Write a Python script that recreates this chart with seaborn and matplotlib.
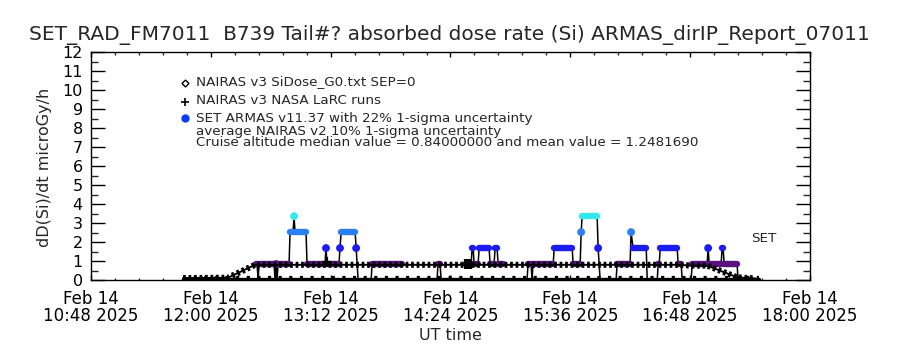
import numpy as np
import pandas as pd
import matplotlib
matplotlib.use("Agg")
import matplotlib.pyplot as plt
import matplotlib.dates as mdates
from matplotlib.ticker import FixedLocator, MultipleLocator
from matplotlib.lines import Line2D
import seaborn as sns

sns.set_theme(style="ticks")
plt.rcParams['font.family'] = ['DejaVu Sans']

T0 = pd.Timestamp("2025-02-14 10:48")

# ---------------- data (minutes after 10:48 UT) ----------------
# SET ARMAS v11.37 runs: start, end, dose-rate level (NaN = no data)
armas_start = [99.2, 100.4, 101.0, 110.6, 111.2, 111.8, 112.4, 119.6, 122.0, 122.6,
               129.8, 141.2, 141.8, 149.6, 150.3, 159.3, 160.5, 168.9, 187.5, 207.9,
               208.5, 210.4, 211.0, 225.4, 229.0, 230.2, 233.2, 239.8, 242.8, 244.6,
               248.2, 262.0, 262.6, 265.0, 265.6, 278.3, 289.7, 294.5, 295.1, 304.7,
               305.9, 316.1, 324.5, 325.7, 334.2, 340.8, 342.0, 352.8, 355.2, 361.2,
               370.8, 371.4, 379.2, 380.4, 388.8]
armas_end = [99.8, 100.4, 110.0, 110.6, 111.2, 111.8, 119.0, 121.4, 122.0, 129.2,
             140.6, 141.2, 149.0, 149.6, 158.7, 159.3, 168.3, 186.9, 207.3, 207.9,
             209.7, 210.4, 224.8, 228.4, 229.6, 232.6, 239.2, 242.2, 244.0, 247.6,
             261.4, 262.0, 264.4, 265.0, 277.7, 289.1, 293.9, 294.5, 304.1, 304.7,
             315.5, 323.9, 324.5, 333.6, 340.2, 341.4, 352.2, 354.6, 360.6, 370.2,
             370.8, 378.6, 379.8, 388.2, 388.8]
armas_level = [0.84, 0, 0.84, 0, 0.84, 0, 0.84, 2.52, 3.36, 2.52,
               0.84, 1.68, 0.84, 1.68, 2.52, 1.68, 0, 0.84, np.nan, 0,
               0.84, 0, np.nan, 0.84, 1.68, 0.84, 1.68, 0.84, 1.68, 0.84,
               np.nan, 0, 0.84, 0, 0.84, 1.68, 0.84, 2.52, 3.36, 1.68,
               0, 0.84, 2.52, 1.68, 0, 0.84, 1.68, 0.84, 0, 0.84,
               1.68, 0.84, 1.68, 0.84, 0]

# NAIRAS v3 SiDose_G0 (diamonds)
g0_min = [55.3, 82.3, 98.6, 352.8, 360.6, 370.2, 388.2, 399.1]
g0_val = [0.10, 0.12, 0.80, 0.80, 0.76, 0.76, 0.14, 0.08]

# NAIRAS v3 NASA LaRC runs (+)
larc_base_min = [55.3, 401.5]
larc_base_val = [0.04, 0.04]
larc_min = [141.5, 224.6, 225.8, 227.0, 228.2]
larc_val = [0.95, 0.86, 0.84, 0.84, 0.86]

# SET label
set_label_min = 396.5
set_label_val = 2.2

# axis ticks
xtick_min = [0, 72, 144, 216, 288, 360, 432]
ytick_vals = list(range(0, 13))

level_colors = {0.84: '#58127e', 1.68: '#1c1cf0', 2.52: '#2a80f0', 3.36: '#34e8ea'}

def tm(m):
    return T0 + pd.to_timedelta(np.asarray(m, dtype=float), unit='min')

# ---------------- figure ----------------
fig = plt.figure(figsize=(9, 3.5), dpi=100)
ax = fig.add_axes([91/900, 1-280/350, (810-91)/900, (280-52)/350])

# black connecting line of ARMAS samples, broken at gaps
rows = []
piece = 0
for s, e, l in zip(armas_start, armas_end, armas_level):
    if np.isnan(l):
        piece += 1
        continue
    rows.append((piece, s, l))
    rows.append((piece, e, l))
conn = pd.DataFrame(rows, columns=['piece', 'm', 'v'])
conn['t'] = tm(conn['m'])
sns.lineplot(data=conn, x='t', y='v', units='piece', estimator=None, sort=False,
             color='black', lw=1.1, ax=ax, zorder=2)

# colored ARMAS runs
runs = pd.DataFrame({'s': armas_start, 'e': armas_end, 'l': armas_level})
runs = runs[runs['l'] > 0].reset_index(drop=True)
runs['lvl'] = runs['l'].map(lambda v: f"{v:.2f}")
pal = {f"{k:.2f}": c for k, c in level_colors.items()}
seg_rows = []
for i, r in runs.iterrows():
    seg_rows.append((i, r['s'], r['l'], r['lvl']))
    seg_rows.append((i, r['e'], r['l'], r['lvl']))
segs = pd.DataFrame(seg_rows, columns=['run', 'm', 'v', 'lvl'])
segs['t'] = tm(segs['m'])
sns.lineplot(data=segs, x='t', y='v', units='run', estimator=None, hue='lvl',
             palette=pal, lw=4.6, solid_capstyle='round', legend=False, ax=ax, zorder=3)
dots = runs[runs['s'] == runs['e']].copy()
dots['t'] = tm(dots['s'])
sns.scatterplot(data=dots, x='t', y='l', hue='lvl', palette=pal, marker='o', s=32,
                edgecolor='none', legend=False, ax=ax, zorder=4)

# NAIRAS v3 G0 diamonds (dense checkered band)
g0 = pd.DataFrame({'t': tm(g0_min), 'v': g0_val})
sns.lineplot(data=g0, x='t', y='v', color='black', lw=1.4, ax=ax, zorder=5, sort=False)
sns.lineplot(data=g0, x='t', y='v', color='black', lw=4.4, ax=ax, zorder=5, sort=False,
             linestyle=(0, (0.45, 0.45)))

# NASA LaRC runs
base = pd.DataFrame({'t': tm(larc_base_min), 'v': larc_base_val})
sns.lineplot(data=base, x='t', y='v', color='black', lw=2.4, ax=ax, zorder=5, sort=False)
sns.lineplot(data=base, x='t', y='v', color='black', lw=4.5, ax=ax, zorder=5, sort=False,
             linestyle=(0, (0.5, 1.2)))
larc = pd.DataFrame({'t': tm(larc_min), 'v': larc_val})
sns.scatterplot(data=larc, x='t', y='v', marker='+', color='black', s=45,
                linewidth=1.6, ax=ax, zorder=6)

ax.text(tm([set_label_min])[0], set_label_val, "SET", fontsize=9.7, va='center', ha='left')

# axes styling
ax.set_xlim(tm([0])[0], tm([432])[0])
ax.set_ylim(0, 12)
ax.xaxis.set_major_locator(FixedLocator(mdates.date2num(tm(xtick_min))))
ax.xaxis.set_minor_locator(MultipleLocator(14.4 / 1440))
ax.set_xticklabels([f"Feb 14\n{t.strftime('%H:%M')} 2025" for t in tm(xtick_min)],
                   fontsize=12, linespacing=0.95)
ax.set_yticks(ytick_vals)
ax.set_yticklabels([str(v) for v in ytick_vals], fontsize=11.5)
ax.yaxis.set_minor_locator(MultipleLocator(0.5))
ax.tick_params(axis='y', which='major', direction='in', length=10, width=1,
               left=True, right=True, pad=6, colors='black')
ax.tick_params(axis='y', which='minor', direction='in', length=5, width=1,
               left=True, right=True)
ax.tick_params(axis='x', which='major', direction='in', length=3.5, width=1,
               top=True, bottom=True, pad=7, colors='black')
ax.tick_params(axis='x', which='minor', direction='in', length=1.8, width=1,
               top=True, bottom=True)
for sp in ax.spines.values():
    sp.set_visible(True)
    sp.set_color('black')
    sp.set_linewidth(1)
ax.set_xlabel("")
ax.set_ylabel("")
ax.grid(False)

# texts
fig.text(449/900, 1-35/350,
         "SET_RAD_FM7011  B739 Tail#? absorbed dose rate (Si) ARMAS_dirIP_Report_07011",
         ha='center', va='center', fontsize=14.5)
fig.text(45/900, 1-167/350, "dD(Si)/dt microGy/h", rotation=90, ha='center',
         va='center', fontsize=11.5)
fig.text(450/900, 1-335/350, "UT time", ha='center', va='center', fontsize=11.5)

leg_x = 196/900
fs_leg = 9.7
fig.text(leg_x, 1-82/350, "NAIRAS v3 SiDose_G0.txt SEP=0", fontsize=fs_leg, va='center')
fig.text(leg_x, 1-100/350, "NAIRAS v3 NASA LaRC runs", fontsize=fs_leg, va='center')
fig.text(leg_x, 1-118/350, "SET ARMAS v11.37 with 22% 1-sigma uncertainty", fontsize=fs_leg, va='center')
fig.text(leg_x, 1-131/350, "average NAIRAS v2 10% 1-sigma uncertainty", fontsize=fs_leg, va='center')
fig.text(leg_x, 1-143/350, "Cruise altitude median value = 0.84000000 and mean value = 1.2481690",
         fontsize=fs_leg, va='center')
fig.add_artist(Line2D([185/900], [1-83/350], marker='D', markersize=3.5, mfc='white',
                      mec='black', mew=1, transform=fig.transFigure))
fig.add_artist(Line2D([185/900], [1-102/350], marker='+', markersize=6, color='black',
                      mew=1.2, transform=fig.transFigure))
fig.add_artist(Line2D([185/900], [1-118/350], marker='o', markersize=5, mfc='#0a3cff',
                      mec='#0a3cff', transform=fig.transFigure))

fig.savefig("out.png", dpi=100, facecolor='white')
